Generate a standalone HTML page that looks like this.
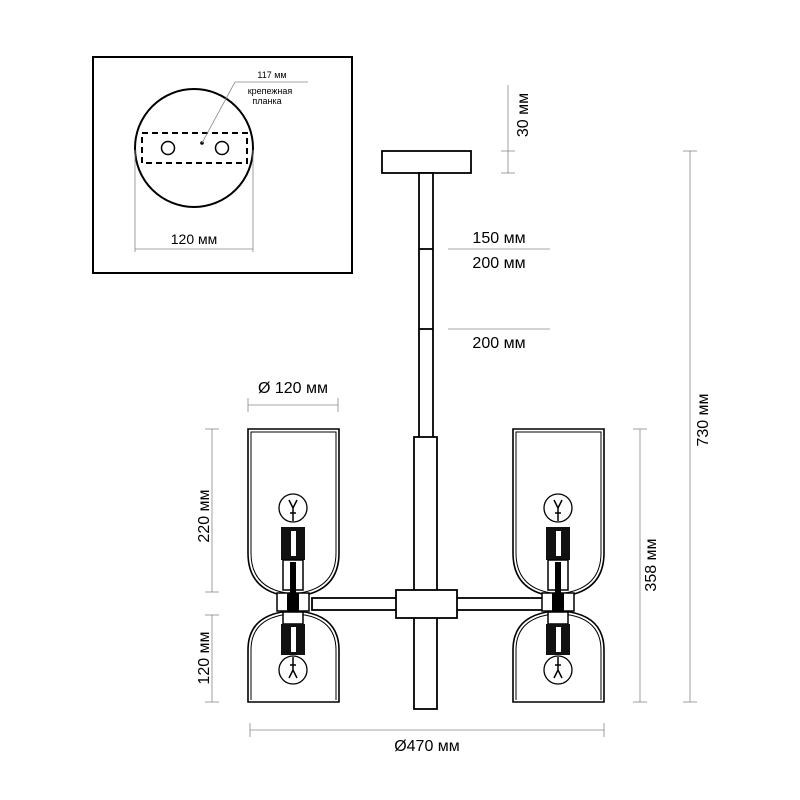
<!DOCTYPE html>
<html><head><meta charset="utf-8"><style>html,body{margin:0;padding:0;background:#fff}svg{display:block}</style></head><body>
<svg width="800" height="800" viewBox="0 0 800 800" xmlns="http://www.w3.org/2000/svg" font-family="Liberation Sans, sans-serif">
<rect width="800" height="800" fill="#fff"/>
<!-- inset -->
<rect x="93" y="57" width="259" height="216" fill="none" stroke="#000" stroke-width="2"/>
<circle cx="194" cy="148" r="59" fill="none" stroke="#000" stroke-width="2"/>
<rect x="142" y="133" width="105" height="30" fill="none" stroke="#000" stroke-width="2" stroke-dasharray="6,4"/>
<circle cx="168" cy="148" r="6.5" fill="none" stroke="#000" stroke-width="1.5"/>
<circle cx="222" cy="148" r="6.5" fill="none" stroke="#000" stroke-width="1.5"/>
<circle cx="202" cy="143" r="1.8" fill="#000"/>
<polyline points="202,143 235,82 308,82" fill="none" stroke="#888" stroke-width="0.8"/>
<text x="272" y="78" font-size="9" text-anchor="middle">117 мм</text>
<text x="270" y="94" font-size="9" text-anchor="middle">крепежная</text>
<text x="267" y="104" font-size="9" text-anchor="middle">планка</text>
<g stroke="#888" stroke-width="0.8"><line x1="135" y1="150" x2="135" y2="252"/><line x1="253" y1="150" x2="253" y2="252"/><line x1="135" y1="249" x2="253" y2="249"/></g>
<text x="194" y="244" font-size="14" text-anchor="middle">120 мм</text>
<!-- canopy and rod -->
<g fill="#fff" stroke="#000" stroke-width="1.8">
<rect x="382" y="151" width="89" height="22"/>
<rect x="419" y="173" width="14" height="265"/>
<line x1="419" y1="249" x2="433" y2="249"/><line x1="419" y1="329" x2="433" y2="329"/>
<rect x="414" y="437" width="23" height="272"/>
<rect x="312" y="598" width="235" height="12"/>
<rect x="396" y="590" width="61" height="28"/>
</g>
<!-- rod dims -->
<g stroke="#888" stroke-width="0.8">
<line x1="508" y1="85" x2="508" y2="173"/><line x1="501" y1="151" x2="515" y2="151"/><line x1="501" y1="173" x2="515" y2="173"/>
<line x1="448" y1="249" x2="550" y2="249"/><line x1="448" y1="329" x2="550" y2="329"/>
</g>
<text x="528" y="115" font-size="16" text-anchor="middle" transform="rotate(-90 528 115)">30 мм</text>
<text x="499" y="243" font-size="16" text-anchor="middle">150 мм</text>
<text x="499" y="268" font-size="16" text-anchor="middle">200 мм</text>
<text x="499" y="348" font-size="16" text-anchor="middle">200 мм</text>
<!-- shades -->
<g id="L">
<path d="M248,429 H339 V553 Q339,590 300,596 L286,596 Q248,590 248,553 Z" fill="none" stroke="#000" stroke-width="1.6"/>
<path d="M251,432 H336 V553 Q336,587 300,593 L286,593 Q251,587 251,553 Z" fill="none" stroke="#000" stroke-width="1"/>
<path d="M248,702 V650 Q248,618 282,612 L305,612 Q339,618 339,650 V702 Z" fill="none" stroke="#000" stroke-width="1.6"/>
<path d="M251,700 V650 Q251,621 282,615 L305,615 Q336,621 336,650 V700" fill="none" stroke="#000" stroke-width="1"/>
<circle cx="293" cy="508" r="14" fill="#fff" stroke="#000" stroke-width="1.3"/>
<path d="M289,500 l4,8 l4,-8 M290,513 h6 M293,508 v13" stroke="#000" stroke-width="1.5" fill="none"/>
<rect x="281" y="527" width="24" height="33" fill="#111"/>
<rect x="291" y="531" width="5" height="25" fill="#fff"/>
<rect x="283" y="560" width="20" height="30" fill="#fff" stroke="#000" stroke-width="1.5"/>
<rect x="290" y="562" width="6" height="45" fill="#000"/>
<rect x="277" y="593" width="32" height="18" fill="#fff" stroke="#000" stroke-width="1.5"/>
<rect x="287" y="593" width="12" height="18" fill="#000"/>
<rect x="283" y="612" width="20" height="12" fill="#fff" stroke="#000" stroke-width="1.5"/>
<rect x="281" y="624" width="24" height="31" fill="#111"/>
<rect x="291" y="627" width="5" height="25" fill="#fff"/>
<circle cx="293" cy="670" r="14" fill="#fff" stroke="#000" stroke-width="1.3"/>
<path d="M289,678 l4,-8 l4,8 M290,665 h6 M293,670 v-13" stroke="#000" stroke-width="1.5" fill="none"/>
</g>
<use href="#L" transform="translate(265,0)"/>
<!-- dims -->
<g stroke="#888" stroke-width="0.8">
<line x1="248" y1="405" x2="338" y2="405"/><line x1="248" y1="398" x2="248" y2="412"/><line x1="338" y1="398" x2="338" y2="412"/>
<line x1="212" y1="429" x2="212" y2="592"/><line x1="205" y1="429" x2="219" y2="429"/><line x1="205" y1="592" x2="219" y2="592"/>
<line x1="212" y1="615" x2="212" y2="702"/><line x1="205" y1="615" x2="219" y2="615"/><line x1="205" y1="702" x2="219" y2="702"/>
<line x1="640" y1="429" x2="640" y2="702"/><line x1="633" y1="429" x2="647" y2="429"/><line x1="633" y1="702" x2="647" y2="702"/>
<line x1="690" y1="151" x2="690" y2="702"/><line x1="683" y1="151" x2="697" y2="151"/><line x1="683" y1="702" x2="697" y2="702"/>
<line x1="250" y1="730" x2="604" y2="730"/><line x1="250" y1="723" x2="250" y2="737"/><line x1="604" y1="723" x2="604" y2="737"/>
</g>
<text x="293" y="393" font-size="16" text-anchor="middle">Ø 120 мм</text>
<text x="209" y="516" font-size="16" text-anchor="middle" transform="rotate(-90 209 516)">220 мм</text>
<text x="209" y="658" font-size="16" text-anchor="middle" transform="rotate(-90 209 658)">120 мм</text>
<text x="656" y="565" font-size="16" text-anchor="middle" transform="rotate(-90 656 565)">358 мм</text>
<text x="708" y="420" font-size="16" text-anchor="middle" transform="rotate(-90 708 420)">730 мм</text>
<text x="427" y="751" font-size="16" text-anchor="middle">Ø470 мм</text>
</svg>
</body></html>
